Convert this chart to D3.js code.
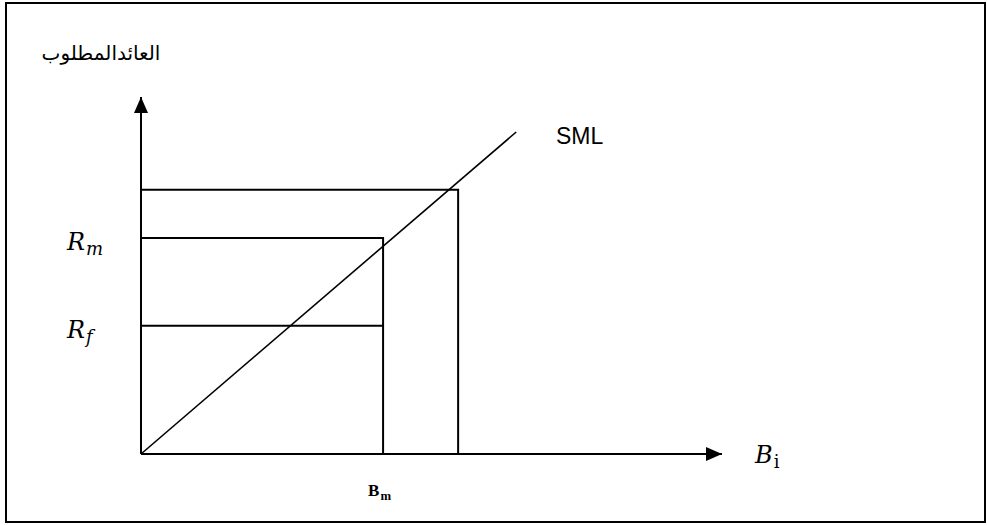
<!DOCTYPE html>
<html>
<head>
<meta charset="utf-8">
<script src="https://cdn.jsdelivr.net/npm/d3@7"></script>
<style>
  body { margin: 0; background: #fff; }
</style>
</head>
<body>
<div id="chart"></div>
<script>
// beta (x) and required return (y) in chart units
const axisMax = [2.4, 100];
const rectNames = ["market", "outer"];
const rectBeta = [1.0, 1.31];
const rectReturn = [60.5, 74];
const rfBeta = [1.0];
const rfReturn = [35.9];
const smlBeta = [0, 1.55];
const smlReturn = [0, 90.2];
const yTickLabels = ["R|m", "R|f"];
const yTickValues = [60.5, 35.9];
const xTickLabels = ["B|m"];
const xTickValues = [1.0];
const yTitle = "العائدالمطلوب";
const xTitle = "B|i";
const lineLabel = "SML";

const W = 987, H = 525;
const svg = d3.select("#chart").append("svg")
    .attr("width", W)
    .attr("height", H);

const x = d3.scaleLinear().domain([0, axisMax[0]]).range([141, 722]);
const y = d3.scaleLinear().domain([0, axisMax[1]]).range([454, 97]);

// outer frame
svg.append("rect")
    .attr("x", 6).attr("y", 3)
    .attr("width", 979).attr("height", 519)
    .attr("fill", "none")
    .attr("stroke", "#000")
    .attr("stroke-width", 2);

const defs = svg.append("defs");
defs.append("marker")
    .attr("id", "arrow")
    .attr("viewBox", "0 0 16 14")
    .attr("refX", 16).attr("refY", 7)
    .attr("markerWidth", 16).attr("markerHeight", 14)
    .attr("markerUnits", "userSpaceOnUse")
    .attr("orient", "auto")
    .append("path")
    .attr("d", "M0,0 L16,7 L0,14 Z")
    .attr("fill", "#000");

// axes
svg.append("line")
    .attr("x1", x(0)).attr("y1", y(0))
    .attr("x2", x(0)).attr("y2", y(axisMax[1]))
    .attr("stroke", "#000").attr("stroke-width", 2)
    .attr("marker-end", "url(#arrow)");
svg.append("line")
    .attr("x1", x(0)).attr("y1", y(0))
    .attr("x2", x(axisMax[0])).attr("y2", y(0))
    .attr("stroke", "#000").attr("stroke-width", 2)
    .attr("marker-end", "url(#arrow)");

// rectangles (top + right side)
svg.selectAll(".box")
    .data(rectNames)
    .enter()
    .append("path")
    .attr("class", "box")
    .attr("d", (d, i) => `M${x(0)},${y(rectReturn[i])} H${x(rectBeta[i])} V${y(0)}`)
    .attr("fill", "none")
    .attr("stroke", "#000")
    .attr("stroke-width", 2);

// risk free line
svg.selectAll(".rf")
    .data(rfReturn)
    .enter()
    .append("line")
    .attr("x1", x(0)).attr("y1", d => y(d))
    .attr("x2", (d, i) => x(rfBeta[i])).attr("y2", d => y(d))
    .attr("stroke", "#000").attr("stroke-width", 2);

// SML
const line = d3.line().x(d => x(d[0])).y(d => y(d[1]));
svg.append("path")
    .attr("d", line(d3.zip(smlBeta, smlReturn)))
    .attr("fill", "none")
    .attr("stroke", "#000")
    .attr("stroke-width", 1.6);

svg.append("text")
    .attr("x", 556).attr("y", 144)
    .style("font-family", "Liberation Sans, Arial, sans-serif")
    .style("font-size", "23px")
    .text(lineLabel);

function mathLabel(sel, label, size, bold) {
    const [base, sub] = label.split("|");
    sel.style("font-family", bold ? "Liberation Serif, serif" : "DejaVu Serif, serif")
        .style("font-style", bold ? "normal" : "italic")
        .style("font-weight", bold ? "bold" : "normal")
        .style("font-size", size + "px");
    sel.append("tspan").text(base);
    sel.append("tspan")
        .attr("dx", 1)
        .attr("dy", size * 0.22)
        .style("font-size", (size * 0.75) + "px")
        .style("font-style", sub === "i" ? "normal" : (bold ? "normal" : "italic"))
        .text(sub);
}

svg.selectAll(".ylab")
    .data(yTickLabels)
    .enter()
    .append("text")
    .attr("class", "ylab")
    .attr("x", 67)
    .attr("y", (d, i) => y(yTickValues[i]) + 12)
    .each(function (d) { mathLabel(d3.select(this), d, 24, false); });

svg.selectAll(".xlab")
    .data(xTickLabels)
    .enter()
    .append("text")
    .attr("class", "xlab")
    .attr("x", (d, i) => x(xTickValues[i]) - 15)
    .attr("y", 496)
    .each(function (d) { mathLabel(d3.select(this), d, 17, true); });

svg.append("text")
    .attr("x", 755).attr("y", 463)
    .each(function () { mathLabel(d3.select(this), xTitle, 24, false); });

svg.append("text")
    .attr("x", 101).attr("y", 60)
    .attr("text-anchor", "middle")
    .style("font-family", "DejaVu Sans, Arial, sans-serif")
    .style("font-size", "20px")
    .text(yTitle);
</script>
</body>
</html>
